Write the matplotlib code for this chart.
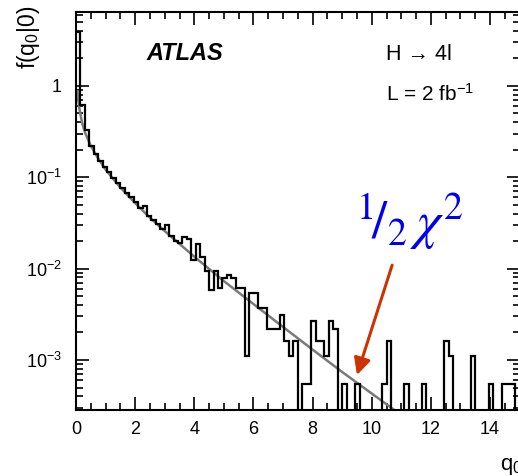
import numpy as np
import matplotlib
matplotlib.use("Agg")
import matplotlib.pyplot as plt
from matplotlib.ticker import FixedLocator, FixedFormatter, MultipleLocator, LogLocator, NullFormatter

plt.rcParams['font.family'] = ['Liberation Sans', 'DejaVu Sans']
plt.rcParams['mathtext.fontset'] = 'custom'
plt.rcParams['mathtext.rm'] = 'Liberation Sans'
plt.rcParams['mathtext.it'] = 'Liberation Sans:italic'

# ---------------- data ----------------
bin_width = 0.15
n_bins = 100
# histogram densities f(q0|0) per bin (0 = empty bin)
hist_values = [
    3.9, 0.62, 0.33, 0.22, 0.18, 0.152, 0.13, 0.113, 0.098, 0.086,
    0.076, 0.067, 0.060, 0.053, 0.046, 0.048, 0.038, 0.034, 0.031, 0.027,
    0.030, 0.023, 0.020, 0.019, 0.022, 0.021, 0.0124, 0.0188, 0.0135, 0.0093,
    0.0058, 0.0093, 0.0061, 0.0078, 0.0085, 0.0078, 0.0061, 0.0061, 0.0011, 0.0054,
    0.0054, 0.0037, 0.0037, 0.0022, 0.0022, 0.0022, 0.0031, 0.0016, 0.0011, 0.0016,
    0.0, 0.00054, 0.00054, 0.0027, 0.0016, 0.0016, 0.0011, 0.0027, 0.0022, 0.0,
    0.00054, 0.0, 0.0, 0.00054, 0.0, 0.0, 0.0, 0.0, 0.0, 0.00054,
    0.0016, 0.0, 0.0, 0.0, 0.00054, 0.0, 0.0, 0.0, 0.00054, 0.0,
    0.0, 0.0, 0.0, 0.0016, 0.0011, 0.0, 0.0, 0.0, 0.0, 0.0011,
    0.0, 0.0, 0.0, 0.00054, 0.0, 0.0, 0.00054, 0.00054, 0.00054, 0.0,
]

# half chi-square reference curve
curve_q = [0.05, 0.1, 0.2, 0.3, 0.5, 0.75, 1, 1.5, 2, 2.5, 3, 4, 5, 6, 7, 8, 9, 10, 11]
curve_f = [0.87, 0.60, 0.40, 0.31, 0.22, 0.16, 0.121, 0.077, 0.052, 0.036, 0.0257,
           0.0135, 0.0073, 0.0041, 0.0023, 0.0013, 0.00074, 0.00043, 0.00025]

xtick_values = [0, 2, 4, 6, 8, 10, 12, 14]
xtick_labels = ['0', '2', '4', '6', '8', '10', '12', '14']
ytick_values = [1e-3, 1e-2, 1e-1, 1]
ytick_labels = [r'$\mathregular{10^{-3}}$', r'$\mathregular{10^{-2}}$',
                r'$\mathregular{10^{-1}}$', '1']

# ---------------- figure ----------------
W, H = 518, 476
fig = plt.figure(figsize=(W / 100, H / 100), dpi=100)
ax = fig.add_axes([76 / W, 66 / H, (519.6 - 76) / W, (464.3 - 66) / H])

edges = np.arange(n_bins + 1) * bin_width
vals = np.array(hist_values, dtype=float)
draw_vals = np.where(vals > 0, vals, 1e-9)

ax.plot(curve_q, curve_f, color='0.48', lw=1.8, zorder=2)
ax.stairs(draw_vals, edges, baseline=None, color='black', lw=1.6, zorder=3)

ax.set_yscale('log')
ax.set_xlim(0, 15)
ax.set_ylim(2.84e-4, 6.45)

ax.xaxis.set_major_locator(FixedLocator(xtick_values))
ax.xaxis.set_major_formatter(FixedFormatter(xtick_labels))
ax.xaxis.set_minor_locator(MultipleLocator(0.5))
ax.yaxis.set_major_locator(FixedLocator(ytick_values))
ax.yaxis.set_major_formatter(FixedFormatter(ytick_labels))
ax.yaxis.set_minor_locator(LogLocator(base=10, subs=np.arange(2, 10), numticks=20))
ax.yaxis.set_minor_formatter(NullFormatter())

ax.tick_params(which='both', direction='in', top=True, right=True, width=1.2,
               labelsize=13, colors='black')
ax.tick_params(which='major', length=9.5)
ax.tick_params(which='minor', length=5)
ax.tick_params(axis='x', which='major', pad=8)
ax.tick_params(axis='y', which='major', pad=10)
for s in ax.spines.values():
    s.set_linewidth(1.5)

# axis titles
fig.text(29 / W, 1 - 6 / H, r'f(q$_{\mathregular{0}}$|0)', rotation=90,
         ha='center', va='top', fontsize=16.5)
fig.text(500 / W, 1 - 470 / H, r'q$_{\mathregular{0}}$', ha='left', va='baseline', fontsize=16)

# labels
fig.text(146 / W, 1 - 60 / H, 'ATLAS', fontsize=17, fontweight='bold', fontstyle='italic',
         ha='left', va='baseline')
fig.text(386 / W, 1 - 60 / H, 'H \u2192 4l', fontsize=15.5, ha='left', va='baseline')
fig.text(386 / W, 1 - 101 / H, r'L = 2 fb$^{\mathregular{-1}}$', fontsize=15,
         ha='left', va='baseline')

# blue annotation
fig.text(356 / W, 1 - 239 / H, r'$^{1}\!/_{2}\,\chi^{2}$', color='#0000ee',
         fontsize=39, ha='left', va='baseline', math_fontfamily='stix')

# red arrow
ax.annotate('', xy=(9.50, 6.85e-4), xytext=(10.69, 0.0109),
            arrowprops=dict(arrowstyle='-|>,head_length=1.0,head_width=0.5',
                            color='#cc3300', lw=2.2, shrinkA=0, shrinkB=0))

fig.savefig('out.png', dpi=100)
